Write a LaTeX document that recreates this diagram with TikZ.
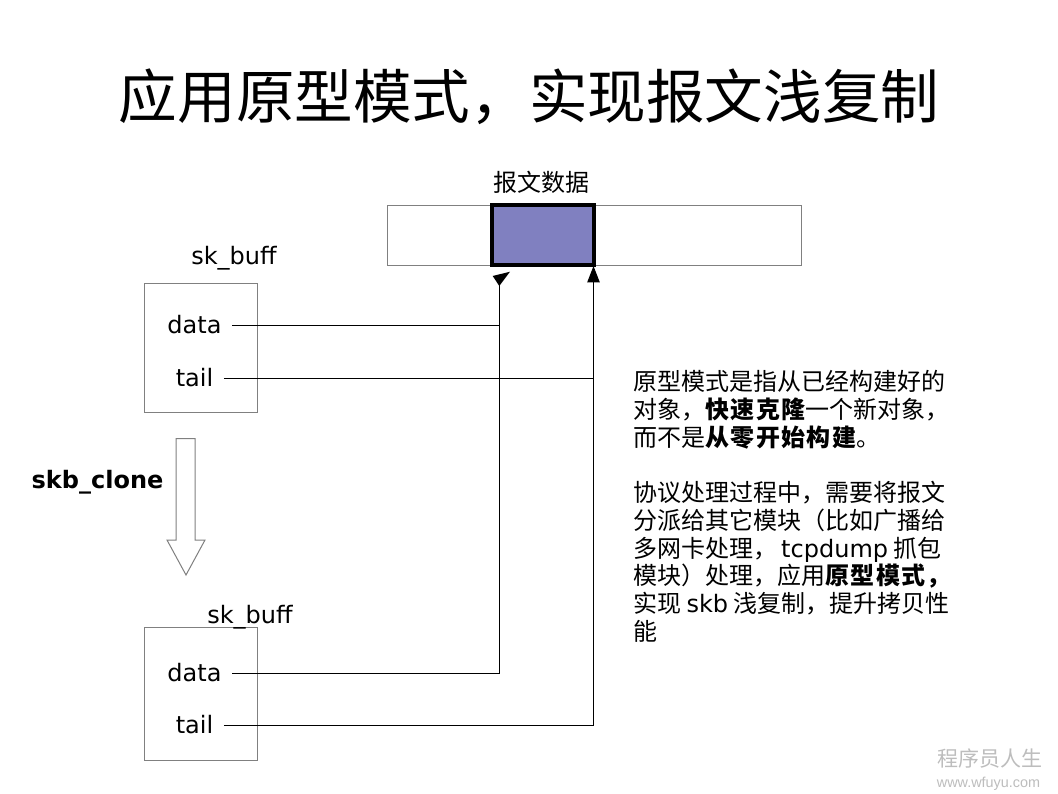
\documentclass[tikz,border=0pt]{standalone}
\usepackage{fontspec}
\setmainfont{Noto Sans CJK SC}
\newfontfamily\lat{DejaVu Sans}
\newfontfamily\wm{Liberation Sans}
\newcommand{\bd}[1]{{\bfseries\addfontfeature{LetterSpace=6}#1}}
\usetikzlibrary{arrows.meta}
\definecolor{blockblue}{HTML}{8080C0}
\definecolor{edgegray}{HTML}{808080}
\definecolor{markgray}{HTML}{BDBDBD}
\tikzset{
  x=1pt,y=-1pt,
  plain/.style={draw=edgegray,line width=1pt,fill=white},
  field/.style={font=\lat\fontsize{24}{28}\selectfont,inner ysep=0pt,inner xsep=10.5pt,text height=18pt,text depth=6pt},
  caption/.style={font=\lat\fontsize{24}{28}\selectfont,inner sep=0pt,text height=18pt,text depth=6pt},
  link/.style={draw=black,line width=1pt},
  para/.style={anchor=north west,inner sep=0pt,align=left,font=\fontsize{24}{27.8}\selectfont},
}
\begin{document}
\begin{tikzpicture}
\useasboundingbox (0,0) rectangle (1058,794);
\fill[white] (0,0) rectangle (1058,794);
\node[anchor=center,inner sep=0pt,font=\fontsize{58.6}{60}\selectfont] (title) at (529,97) {应用原型模式，实现报文浅复制};
\node[inner sep=0pt,font=\fontsize{24}{28}\selectfont] (buflabel) at (541,182) {报文数据};
% packet buffer
\node[plain,minimum width=414pt,minimum height=60pt,inner sep=0pt,outer sep=0pt] (buffer) at (594,235.5) {};
\node[draw=black,fill=blockblue,line width=4.4pt,minimum width=102pt,minimum height=60pt,inner sep=0pt,outer sep=0pt] (block) at (543,235) {};
% sk_buff 1
\node[plain,minimum width=113pt,minimum height=129pt,inner sep=0pt,outer sep=0pt] (sk1) at (200.5,348) {};
\node[caption] (sk1name) at (234,259) {sk\_buff};
\node[field] (data1) at (194.5,327.5) {data};
\node[field] (tail1) at (194.5,380.5) {tail};
% sk_buff 2
\node[plain,minimum width=113pt,minimum height=133pt,inner sep=0pt,outer sep=0pt] (sk2) at (200.5,694) {};
\node[caption] (sk2name) at (250,617) {sk\_buff};
\node[field] (data2) at (194.5,675.5) {data};
\node[field] (tail2) at (194.5,727.5) {tail};
% clone arrow
\draw[plain,line join=miter] (176,438.5) -- (195,438.5) -- (195,540) -- (205,540) -- (186,575) -- (167,540) -- (176,540) -- cycle;
\node[inner sep=0pt,font=\lat\bfseries\fontsize{24}{28}\selectfont,text height=18pt,text depth=6pt] (clone) at (97.5,482) {skb\_clone};
% connectors
\coordinate (headA) at (499,285);
\coordinate (headB) at (593.5,266);
\coordinate (joinA1) at (499,325.5);
\coordinate (joinA2) at (499,673.5);
\coordinate (joinB1) at (593.5,378.5);
\coordinate (joinB2) at (593.5,725.5);
\draw[link] ([yshift=2pt]data1.east) -- (joinA1);
\draw[link] ([yshift=2pt]data2.east) -- (joinA2) -- (headA);
\draw[link] ([yshift=2pt]tail1.east) -- (joinB1);
\draw[link,-{Triangle[length=16.5pt,width=12.5pt]}] ([yshift=2pt]tail2.east) -- (joinB2) -- (headB);
\fill[black] (492.7,276) -- (510,271.7) -- (499.3,286) -- cycle;
% text
\node[para] (para1) at (633,370) {原型模式是指从已经构建好的\\对象，\bd{快速克隆}一个新对象，\\而不是\bd{从零开始构建}。};
\node[para] (para2) at (633,481) {协议处理过程中，需要将报文\\分派给其它模块（比如广播给\\多网卡处理，\hspace{4pt}{\lat tcpdump} 抓包\\模块）处理，应用\bd{原型模式，}\\实现 {\lat skb} 浅复制，提升拷贝性\\能};
% watermark
\node[inner sep=0pt,text=markgray,font=\fontsize{21}{24}\selectfont] (mark1) at (989.5,759) {程序员人生};
\node[inner sep=0pt,text=markgray,font=\wm\fontsize{14.4}{20}\selectfont] (mark2) at (988.5,784) {www.wfuyu.com};
\end{tikzpicture}
\end{document}
